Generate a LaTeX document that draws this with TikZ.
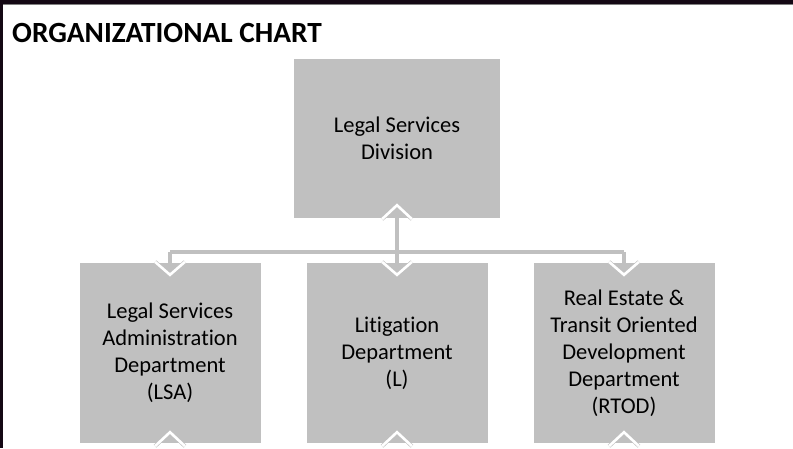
\documentclass[tikz,border=0pt]{standalone}
\usepackage{fontspec}
\setmainfont{Carlito}[Ligatures=NoCommon]
\usepackage{tikz}
\definecolor{boxgray}{HTML}{C0C0C0}
\definecolor{framedark}{HTML}{140814}

\begin{document}
\begin{tikzpicture}[x=1pt,y=-1pt,
  unit/.style={fill=boxgray,inner sep=0pt,align=center,font=\fontsize{22.5}{27}\selectfont},
  dept/.style={unit,minimum width=181pt,minimum height=180pt},
  link/.style={draw=boxgray,line width=3.5pt},
  chev/.style={draw=boxgray,line width=0.6pt,double=white,double distance=2.6pt}]
\useasboundingbox (0,0) rectangle (793,448);
\fill[framedark] (0,0) rectangle (793,4);
\fill[gray] (0,4) rectangle (793,5);
\fill[framedark] (0,0) rectangle (3,448);
\node[anchor=base west,inner sep=0pt,font=\fontsize{29.3}{34}\bfseries] (title) at (12,42) {ORGANIZATIONAL CHART};
\node[unit,minimum width=206pt,minimum height=159pt] (lsd) at (397,138.5) {Legal Services\\Division};
\node[dept] (lsa) at (170,353) {Legal Services\\Administration\\Department\\(LSA)};
\node[dept] (lit) at (397,353) {Litigation\\Department\\(L)};
\node[dept] (rtod) at (624,353) {Real Estate \&\\Transit Oriented\\Development\\Department\\(RTOD)};
\coordinate (bus) at (397,252);
\draw[link] ([shift={(0,-13)}]lsd.south) -- (bus);
\draw[link] (lsa.north |- bus) -- (rtod.north |- bus);
\foreach \n in {lsa,lit,rtod}
  \draw[link] (\n.north |- bus) -- ([shift={(0,12)}]\n.north);
\draw[chev] ([shift={(-15,1)}]lsd.south) -- ([shift={(0,-13)}]lsd.south) -- ([shift={(15,1)}]lsd.south);
\foreach \n in {lsa,lit,rtod} {
  \draw[chev] ([shift={(-15,-1)}]\n.north) -- ([shift={(0,12)}]\n.north) -- ([shift={(15,-1)}]\n.north);
  \draw[chev] ([shift={(-15,3)}]\n.south) -- ([shift={(0,-11)}]\n.south) -- ([shift={(15,3)}]\n.south);
}
\end{tikzpicture}
\end{document}
